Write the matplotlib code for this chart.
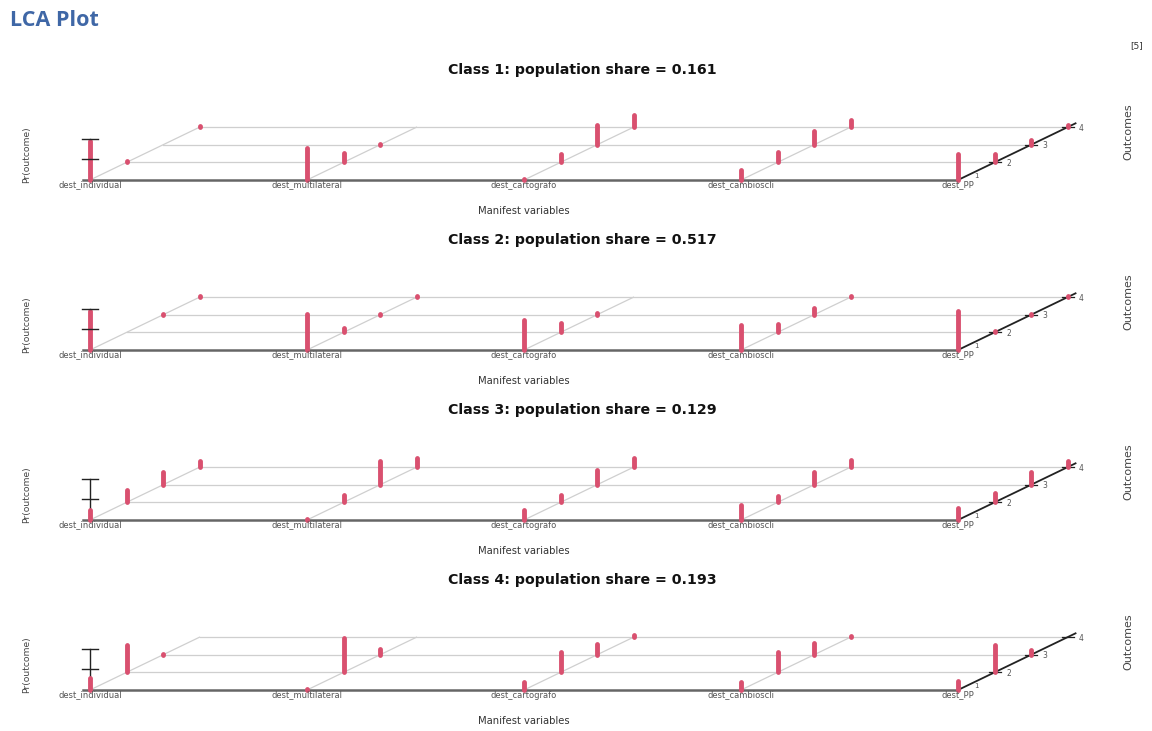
import matplotlib
matplotlib.use("Agg")
import matplotlib.pyplot as plt

# ---------------- data ----------------
variables = ["dest_individual", "dest_multilateral", "dest_cartografo",
             "dest_cambioscli", "dest_PP"]
outcomes = ["1", "2", "3", "4"]
class_names = ["Class 1", "Class 2", "Class 3", "Class 4"]
class_shares = [0.161, 0.517, 0.129, 0.193]

# probabilities: rows = manifest variables, cols = outcomes 1..4
class1_probs = [[0.95, 0.03, 0.00, 0.02],
                [0.76, 0.22, 0.02, 0.00],
                [0.02, 0.20, 0.48, 0.30],
                [0.24, 0.26, 0.33, 0.17],
                [0.62, 0.20, 0.12, 0.06]]
class2_probs = [[0.94, 0.02, 0.02, 0.02],
                [0.86, 0.10, 0.02, 0.02],
                [0.72, 0.22, 0.04, 0.00],
                [0.60, 0.20, 0.16, 0.04],
                [0.93, 0.03, 0.02, 0.02]]
class3_probs = [[0.24, 0.30, 0.32, 0.14],
                [0.03, 0.18, 0.58, 0.21],
                [0.25, 0.18, 0.35, 0.22],
                [0.37, 0.15, 0.30, 0.18],
                [0.30, 0.23, 0.31, 0.16]]
class4_probs = [[0.30, 0.67, 0.03, 0.00],
                [0.03, 0.83, 0.14, 0.00],
                [0.20, 0.50, 0.25, 0.05],
                [0.20, 0.48, 0.28, 0.04],
                [0.22, 0.66, 0.12, 0.00]]
all_probs = [class1_probs, class2_probs, class3_probs, class4_probs]
z_ticks = [0.5, 1.0]

# ---------------- style / geometry (pixels) ----------------
W, H = 1152, 731
UX = 217.0      # px between manifest variables
UZ = 41.5       # px for probability 1
DX, DY = 36.5, 17.6   # px shift per outcome step (depth)
X0 = 90.0       # px of first variable
BASE0, BSTEP = 180.0, 170.0
RED = "#d9506f"
GRID = "#cfcfcf"

def proj(i, k, p=0.0):
    return i * UX + k * DX, k * DY + p * UZ

fig = plt.figure(figsize=(W / 100, H / 100), dpi=100)
fig.patch.set_facecolor("white")

fig.text(10 / W, 1 - 20 / H, "LCA Plot", fontsize=15.5, fontweight="bold",
         color="#3f67a6", family="Open Sans", ha="left", va="center")
fig.text(1137 / W, 1 - 46 / H, "[5]", fontsize=6.5, color="#333333",
         ha="center", va="center")

nv = len(variables)
no = len(outcomes)
for j, probs in enumerate(all_probs):
    base = BASE0 + BSTEP * j
    top_px, bot_px = base - 125, base + 45
    ax = fig.add_axes([0, 1 - bot_px / H, 1, (bot_px - top_px) / H])
    ax.set_xlim(-X0, W - X0)
    ax.set_ylim(-45, 125)
    ax.axis("off")

    # back grid lines (outcomes 2..4)
    for k in range(1, no):
        xa, ya = proj(0, k)
        xb, yb = proj(nv - 1, k)
        ax.plot([xa, xb], [ya, yb], color=GRID, lw=0.9, zorder=1)
    # front base line
    xa, ya = proj(0, 0)
    xb, yb = proj(nv - 1, 0)
    ax.plot([xa - 7, xb], [ya, yb], color="#666666", lw=1.8, zorder=2)
    # oblique depth lines
    for i in range(nv - 1):
        xa, ya = proj(i, 0)
        xb, yb = proj(i, no - 1)
        ax.plot([xa, xb], [ya, yb], color=GRID, lw=0.9, zorder=1)
    # right outcome axis
    xa, ya = proj(nv - 1, 0)
    xb, yb = proj(nv - 1, no - 1 + 0.22)
    ax.plot([xa, xb], [ya, yb], color="#222222", lw=1.3, zorder=2)
    for k in range(no):
        xt, yt = proj(nv - 1, k)
        if k > 0:
            ax.plot([xt - 6, xt + 6], [yt, yt], color="#222222", lw=0.9, zorder=2)
            ax.text(xt + 14, yt - 1, outcomes[k], fontsize=5.5, color="#555555",
                    ha="center", va="center")
        else:
            ax.text(xt + 18, yt + 4, outcomes[k], fontsize=5, color="#555555",
                    ha="center", va="center")
    ax.text(1128 - X0, 48, "Outcomes", fontsize=8, color="#444444",
            rotation=90, ha="center", va="center")

    # left probability axis
    xz, _ = proj(0, 0)
    ax.plot([xz, xz], [0, UZ * max(z_ticks)], color="#222222", lw=1.0, zorder=2)
    for t in z_ticks:
        ax.plot([xz - 8, xz + 8], [t * UZ, t * UZ], color="#222222", lw=1.0, zorder=4)
    ax.text(27 - X0, 25, "Pr(outcome)", fontsize=6.6, color="#444444",
            rotation=90, ha="center", va="center")

    # probability bars
    for i in range(nv):
        for k in range(no):
            p = probs[i][k]
            if p < 0.005:
                continue
            x, y0 = proj(i, k)
            ax.plot([x, x], [y0, y0 + p * UZ], color=RED, lw=3.5,
                    solid_capstyle="round", zorder=3)

    # labels
    for i, name in enumerate(variables):
        x, _ = proj(i, 0)
        ax.text(x, -5, name, fontsize=6, color="#555555", ha="center", va="center")
    ax.text(proj(2, 0)[0], -31, "Manifest variables", fontsize=7.2,
            color="#333333", ha="center", va="center")
    ax.text(582 - X0, 110,
            f"{class_names[j]}: population share = {class_shares[j]:.3f}",
            fontsize=10.2, fontweight="bold", family="DejaVu Sans",
            color="#111111", ha="center", va="center")

fig.savefig("out.png", dpi=100, facecolor="white")
